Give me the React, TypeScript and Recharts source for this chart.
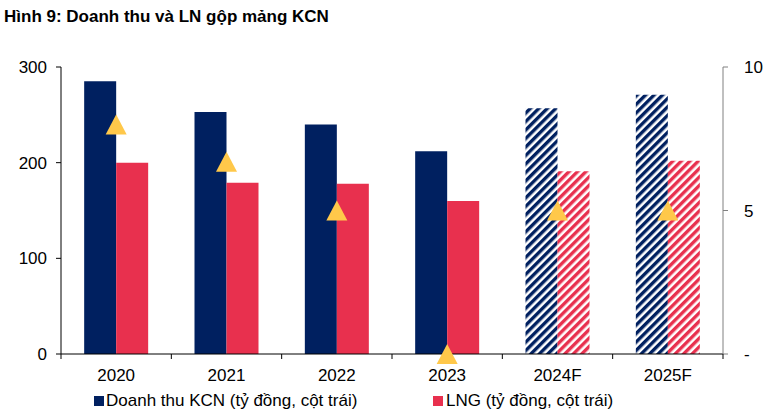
import React from 'react';
import { ComposedChart, Bar, Scatter, XAxis, YAxis, Cell } from 'recharts';

// ---- Data ----
const years = ['2020', '2021', '2022', '2023', '2024F', '2025F'];
const revenueKCN = [285, 253, 240, 212, 257, 271];
const grossProfit = [200, 179, 178, 160, 191, 202];
const markerValues = [8, 6.7, 5, 0, 5, 5];
const leftTicks = [0, 100, 200, 300];
const rightTicks = [0, 5, 10];

const titleText = 'Hình 9: Doanh thu và LN gộp mảng KCN';
const legendRevenue = 'Doanh thu KCN (tỷ đồng, cột trái)';
const legendProfit = 'LNG (tỷ đồng, cột trái)';

// ---- Styles ----
const NAVY = '#002060';
const RED = '#E8304E';
const YELLOW = '#FFC84A';
const FONT = '"Liberation Sans", Arial, sans-serif';
const X_TICK_SIZE = 5;
const X_TICK_MARGIN = 10;

const data = years.map((year, i) => ({
  year,
  revenue: revenueKCN[i],
  profit: grossProfit[i],
  marker: markerValues[i],
  forecast: year.endsWith('F'),
}));

const Triangle = (p: any) => {
  const { cx, cy } = p;
  if (cx == null || cy == null || isNaN(cx) || isNaN(cy)) return <g />;
  return (
    <polygon
      points={`${cx},${cy - 10} ${cx + 10.5},${cy + 10} ${cx - 10.5},${cy + 10}`}
      fill={YELLOW}
    />
  );
};

const XTick = (props: any) => {
  const { x, y, payload, index, visibleTicksCount, width } = props;
  const count = visibleTicksCount || years.length;
  const band = (width || 662) / count;
  const axisY = y - X_TICK_SIZE - X_TICK_MARGIN;
  return (
    <g>
      <line x1={x - band / 2} x2={x - band / 2} y1={axisY} y2={axisY + X_TICK_SIZE} stroke="#000" />
      {index === count - 1 && (
        <line x1={x + band / 2} x2={x + band / 2} y1={axisY} y2={axisY + X_TICK_SIZE} stroke="#000" />
      )}
      <text x={x} y={y + 12} textAnchor="middle" fill="#000" fontSize={17} fontFamily={FONT}>
        {payload.value}
      </text>
    </g>
  );
};

export default function App() {
  return (
    <div
      style={{
        position: 'fixed',
        left: 0,
        top: 0,
        width: 765,
        height: 413,
        overflow: 'hidden',
        background: '#fff',
        fontFamily: FONT,
      }}
    >
      <div style={{ position: 'absolute', left: 0, top: 0 }}>
        <ComposedChart
          width={765}
          height={413}
          data={data}
          margin={{ top: 67, right: 0, left: 0, bottom: 29 }}
          barCategoryGap="21%"
          barGap={0}
        >
          <defs>
            <pattern id="hatchNavy" patternUnits="userSpaceOnUse" width="6" height="6" patternTransform="rotate(45)">
              <rect width="6" height="6" fill="#fff" />
              <rect width="3.4" height="6" fill={NAVY} />
            </pattern>
            <pattern id="hatchRed" patternUnits="userSpaceOnUse" width="6" height="6" patternTransform="rotate(45)">
              <rect width="6" height="6" fill="#fff" />
              <rect width="3.4" height="6" fill={RED} />
            </pattern>
          </defs>
          <XAxis
            dataKey="year"
            interval={0}
            height={30}
            tickLine={false}
            axisLine={{ stroke: '#000' }}
            tickSize={X_TICK_SIZE}
            tickMargin={X_TICK_MARGIN}
            tick={<XTick />}
          />
          <YAxis
            yAxisId="left"
            width={61}
            domain={[0, 300]}
            ticks={leftTicks}
            interval={0}
            axisLine={{ stroke: '#000' }}
            tickLine={{ stroke: '#000' }}
            tickSize={5}
            tickMargin={9}
            tick={{ fill: '#000', fontSize: 17, fontFamily: FONT }}
          />
          <YAxis
            yAxisId="right"
            orientation="right"
            width={42}
            domain={[0, 10]}
            ticks={rightTicks}
            interval={0}
            tickFormatter={(v: number) => (v === 0 ? '-' : String(v))}
            axisLine={{ stroke: '#808080' }}
            tickLine={{ stroke: '#808080' }}
            tickSize={5}
            tickMargin={16}
            tick={{ fill: '#000', fontSize: 17, fontFamily: FONT }}
          />
          <Bar yAxisId="left" dataKey="revenue" isAnimationActive={false}>
            {data.map((d, i) => (
              <Cell key={`r${i}`} fill={d.forecast ? 'url(#hatchNavy)' : NAVY} />
            ))}
          </Bar>
          <Bar yAxisId="left" dataKey="profit" isAnimationActive={false}>
            {data.map((d, i) => (
              <Cell key={`p${i}`} fill={d.forecast ? 'url(#hatchRed)' : RED} />
            ))}
          </Bar>
          <Scatter yAxisId="right" dataKey="marker" shape={<Triangle />} isAnimationActive={false} />
        </ComposedChart>
      </div>
      <svg
        width={765}
        height={413}
        style={{ position: 'absolute', left: 0, top: 0, pointerEvents: 'none' }}
      >
        <text x={4} y={22} fontSize={17} fontWeight="bold" fill="#000" fontFamily={FONT}>
          {titleText}
        </text>
        <rect x={94} y={396} width={10} height={10} fill={NAVY} />
        <text x={106} y={406} fontSize={17} fill="#000" fontFamily={FONT}>
          {legendRevenue}
        </text>
        <rect x={433} y={396} width={10} height={10} fill={RED} />
        <text x={446} y={406} fontSize={17} fill="#000" fontFamily={FONT}>
          {legendProfit}
        </text>
      </svg>
    </div>
  );
}
